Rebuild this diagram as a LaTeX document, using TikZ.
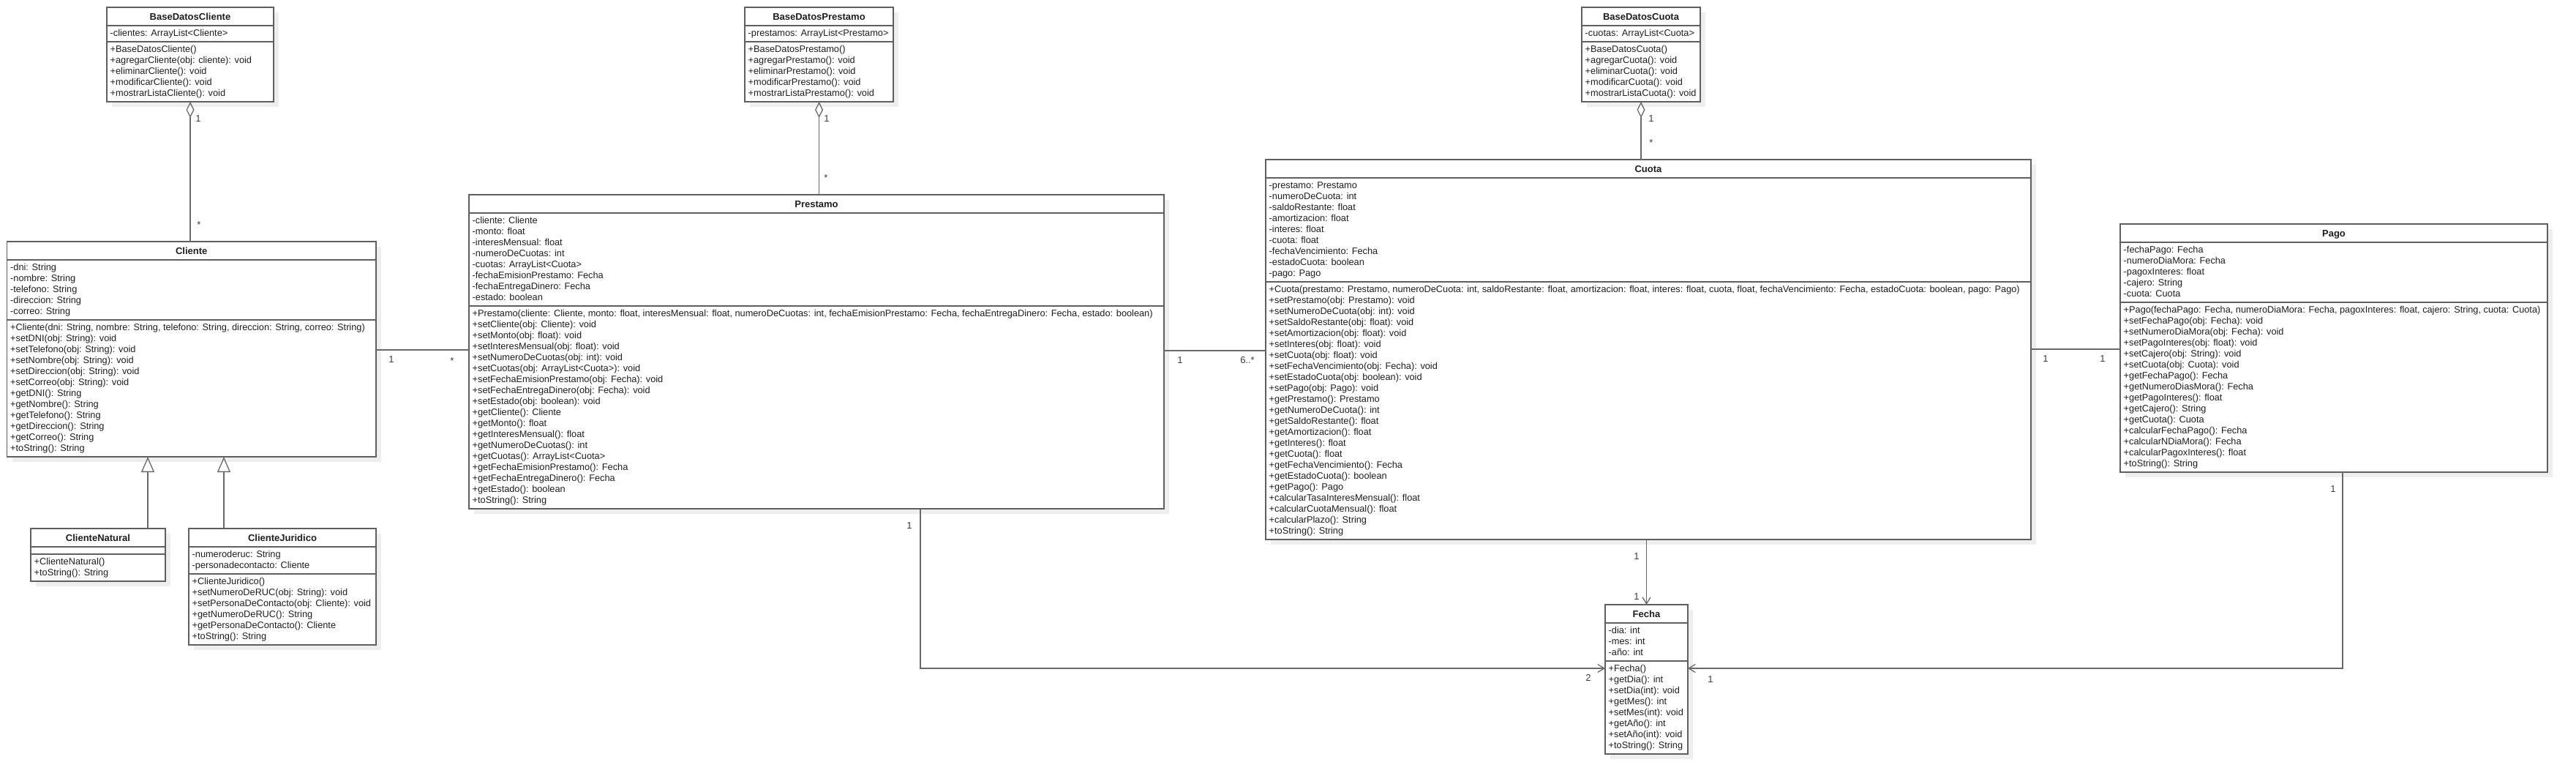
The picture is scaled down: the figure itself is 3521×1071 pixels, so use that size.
\documentclass[tikz,border=0pt]{standalone}
\usepackage{fontspec}
\setmainfont{Liberation Sans}
\usetikzlibrary{arrows.meta}
\definecolor{shadowc}{RGB}{238,238,238}
\definecolor{linec}{RGB}{95,95,95}
\definecolor{connc}{RGB}{105,105,105}
\definecolor{textc}{RGB}{30,30,30}
\definecolor{lblc}{RGB}{60,60,60}
\tikzset{
  classbox/.style={draw=linec, line width=1.4pt, fill=white, inner sep=0pt, outer sep=0pt},
  boxline/.style={draw=linec, line width=1.4pt},
  titletext/.style={anchor=base, inner sep=0pt, text=textc, font=\bfseries\fontsize{13}{15}\selectfont},
  membertext/.style={anchor=north west, inner sep=0pt, align=left, text=textc, font=\fontsize{12.75}{15}\selectfont},
  lbl/.style={anchor=base, inner sep=0pt, text=lblc, font=\fontsize{13}{15}\selectfont},
  conn/.style={draw=connc, line width=1.3pt},
  aggtip/.style={-{Diamond[open, length=22pt, width=11pt]}},
  gentip/.style={-{Triangle[open, length=21pt, width=18pt]}},
  navtip/.style={-{Straight Barb[length=9pt, width=11pt]}}
}
\newcommand{\umlclass}[9]{%
  \pgfmathsetmacro\uha{ifthenelse(#6==0,10,#6*15+7)}%
  \pgfmathsetmacro\uhm{#8*15+7}%
  \pgfmathsetmacro\uya{#4+25}%
  \pgfmathsetmacro\uym{#4+25+\uha}%
  \pgfmathsetmacro\uyb{#4+25+\uha+\uhm}%
  \pgfmathsetmacro\uw{#3-#2}%
  \pgfmathsetmacro\uh{\uyb-#4}%
  \fill[shadowc] (#2+7,#4+7) rectangle (#3+7,\uyb+7);
  \node[classbox, minimum width=\uw pt, minimum height=\uh pt, anchor=north west] (#1) at (#2,#4) {};
  \draw[boxline] (#2,\uya) -- (#3,\uya);
  \draw[boxline] (#2,\uym) -- (#3,\uym);
  \node[titletext] (#1-t) at ({(#2+#3)/2},#4+17) {#5};
  \node[membertext] (#1-a) at (#2+4.5,\uya+3.5) {\rule{0pt}{11pt}#7};
  \node[membertext] (#1-m) at (#2+4.5,\uym+3.5) {\rule{0pt}{11pt}#9};
}
\begin{document}
\begin{tikzpicture}[x=1pt, y=-1pt]
\useasboundingbox (0,0) rectangle (3521,1071);
\fill[white] (0,0) rectangle (3521,1071);

\umlclass{bdc}{146}{374}{10}{BaseDatosCliente}{1}{-clientes: ArrayList<Cliente>}{5}{+BaseDatosCliente()\\+agregarCliente(obj: cliente): void\\+eliminarCliente(): void\\+modificarCliente(): void\\+mostrarListaCliente(): void}

\umlclass{cliente}{9.5}{514}{330}{Cliente}{5}{-dni: String\\-nombre: String\\-telefono: String\\-direccion: String\\-correo: String}{12}{+Cliente(dni: String, nombre: String, telefono: String, direccion: String, correo: String)\\+setDNI(obj: String): void\\+setTelefono(obj: String): void\\+setNombre(obj: String): void\\+setDireccion(obj: String): void\\+setCorreo(obj: String): void\\+getDNI(): String\\+getNombre(): String\\+getTelefono(): String\\+getDireccion(): String\\+getCorreo(): String\\+toString(): String}

\umlclass{cn}{42}{226}{722}{ClienteNatural}{0}{}{2}{+ClienteNatural()\\+toString(): String}

\umlclass{cj}{258}{514}{722}{ClienteJuridico}{2}{-numeroderuc: String\\-personadecontacto: Cliente}{6}{+ClienteJuridico()\\+setNumeroDeRUC(obj: String): void\\+setPersonaDeContacto(obj: Cliente): void\\+getNumeroDeRUC(): String\\+getPersonaDeContacto(): Cliente\\+toString(): String}

\umlclass{bdp}{1018}{1221}{10}{BaseDatosPrestamo}{1}{-prestamos: ArrayList<Prestamo>}{5}{+BaseDatosPrestamo()\\+agregarPrestamo(): void\\+eliminarPrestamo(): void\\+modificarPrestamo(): void\\+mostrarListaPrestamo(): void}

\umlclass{prestamo}{641}{1591}{266}{Prestamo}{8}{-cliente: Cliente\\-monto: float\\-interesMensual: float\\-numeroDeCuotas: int\\-cuotas: ArrayList<Cuota>\\-fechaEmisionPrestamo: Fecha\\-fechaEntregaDinero: Fecha\\-estado: boolean}{18}{+Prestamo(cliente: Cliente, monto: float, interesMensual: float, numeroDeCuotas: int, fechaEmisionPrestamo: Fecha, fechaEntregaDinero: Fecha, estado: boolean)\\+setCliente(obj: Cliente): void\\+setMonto(obj: float): void\\+setInteresMensual(obj: float): void\\+setNumeroDeCuotas(obj: int): void\\+setCuotas(obj: ArrayList<Cuota>): void\\+setFechaEmisionPrestamo(obj: Fecha): void\\+setFechaEntregaDinero(obj: Fecha): void\\+setEstado(obj: boolean): void\\+getCliente(): Cliente\\+getMonto(): float\\+getInteresMensual(): float\\+getNumeroDeCuotas(): int\\+getCuotas(): ArrayList<Cuota>\\+getFechaEmisionPrestamo(): Fecha\\+getFechaEntregaDinero(): Fecha\\+getEstado(): boolean\\+toString(): String}

\umlclass{bdcuota}{2162}{2324}{10}{BaseDatosCuota}{1}{-cuotas: ArrayList<Cuota>}{5}{+BaseDatosCuota()\\+agregarCuota(): void\\+eliminarCuota(): void\\+modificarCuota(): void\\+mostrarListaCuota(): void}

\umlclass{cuota}{1730}{2776}{218}{Cuota}{9}{-prestamo: Prestamo\\-numeroDeCuota: int\\-saldoRestante: float\\-amortizacion: float\\-interes: float\\-cuota: float\\-fechaVencimiento: Fecha\\-estadoCuota: boolean\\-pago: Pago}{23}{+Cuota(prestamo: Prestamo, numeroDeCuota: int, saldoRestante: float, amortizacion: float, interes: float, cuota, float, fechaVencimiento: Fecha, estadoCuota: boolean, pago: Pago)\\+setPrestamo(obj: Prestamo): void\\+setNumeroDeCuota(obj: int): void\\+setSaldoRestante(obj: float): void\\+setAmortizacion(obj: float): void\\+setInteres(obj: float): void\\+setCuota(obj: float): void\\+setFechaVencimiento(obj: Fecha): void\\+setEstadoCuota(obj: boolean): void\\+setPago(obj: Pago): void\\+getPrestamo(): Prestamo\\+getNumeroDeCuota(): int\\+getSaldoRestante(): float\\+getAmortizacion(): float\\+getInteres(): float\\+getCuota(): float\\+getFechaVencimiento(): Fecha\\+getEstadoCuota(): boolean\\+getPago(): Pago\\+calcularTasaInteresMensual(): float\\+calcularCuotaMensual(): float\\+calcularPlazo(): String\\+toString(): String}

\umlclass{pago}{2898}{3482}{306}{Pago}{5}{-fechaPago: Fecha\\-numeroDiaMora: Fecha\\-pagoxInteres: float\\-cajero: String\\-cuota: Cuota}{15}{+Pago(fechaPago: Fecha, numeroDiaMora: Fecha, pagoxInteres: float, cajero: String, cuota: Cuota)\\+setFechaPago(obj: Fecha): void\\+setNumeroDiaMora(obj: Fecha): void\\+setPagoInteres(obj: float): void\\+setCajero(obj: String): void\\+setCuota(obj: Cuota): void\\+getFechaPago(): Fecha\\+getNumeroDiasMora(): Fecha\\+getPagoInteres(): float\\+getCajero(): String\\+getCuota(): Cuota\\+calcularFechaPago(): Fecha\\+calcularNDiaMora(): Fecha\\+calcularPagoxInteres(): float\\+toString(): String}

\umlclass{fecha}{2194}{2307}{826}{Fecha}{3}{-dia: int\\-mes: int\\-año: int}{8}{+Fecha()\\+getDia(): int\\+setDia(int): void\\+getMes(): int\\+setMes(int): void\\+getAño(): int\\+setAño(int): void\\+toString(): String}

% helper coordinates
\coordinate (g1) at (202,0);
\coordinate (g2) at (306,0);
\coordinate (ya) at (0,478);
\coordinate (yb) at (0,479);
\coordinate (yc) at (0,477);
\coordinate (pf) at (1258,913);
\coordinate (qf) at (3202,913);

% aggregations
\draw[conn, aggtip] (cliente.north -| bdc.south) -- (bdc.south);
\draw[conn, aggtip] (prestamo.north -| bdp.south) -- (bdp.south);
\draw[conn, aggtip] (cuota.north -| bdcuota.south) -- (bdcuota.south);

% generalizations
\draw[conn, gentip] (cn.north -| g1) -- (cliente.south -| g1);
\draw[conn, gentip] (cj.north -| g2) -- (cliente.south -| g2);

% associations
\draw[conn] (cliente.east |- ya) -- (prestamo.west |- ya);
\draw[conn] (prestamo.east |- yb) -- (cuota.west |- yb);
\draw[conn] (cuota.east |- yc) -- (pago.west |- yc);

% navigable to Fecha
\draw[conn, navtip] (cuota.south -| fecha.north) -- (fecha.north);
\draw[conn, navtip] (prestamo.south -| pf) -- (pf) -- (fecha.west |- pf);
\draw[conn, navtip] (pago.south -| qf) -- (qf) -- (fecha.east |- qf);

% multiplicities
\node[lbl] (m1) at (271,166) {1};
\node[lbl] (m2) at (272,311) {*};
\node[lbl] (m3) at (1130,166) {1};
\node[lbl] (m4) at (1129,247) {*};
\node[lbl] (m5) at (2257,166) {1};
\node[lbl] (m6) at (2257,199) {*};
\node[lbl] (m7) at (535,495) {1};
\node[lbl] (m8) at (618,497) {*};
\node[lbl] (m9) at (1613,496) {1};
\node[lbl] (m10) at (1705,496) {6..*};
\node[lbl] (m11) at (2796,494) {1};
\node[lbl] (m12) at (2874,494) {1};
\node[lbl] (m13) at (2237,764) {1};
\node[lbl] (m14) at (2237,819) {1};
\node[lbl] (m15) at (1243,722) {1};
\node[lbl] (m16) at (2171,930) {2};
\node[lbl] (m17) at (3189,672) {1};
\node[lbl] (m18) at (2338,932) {1};
\end{tikzpicture}
\end{document}
